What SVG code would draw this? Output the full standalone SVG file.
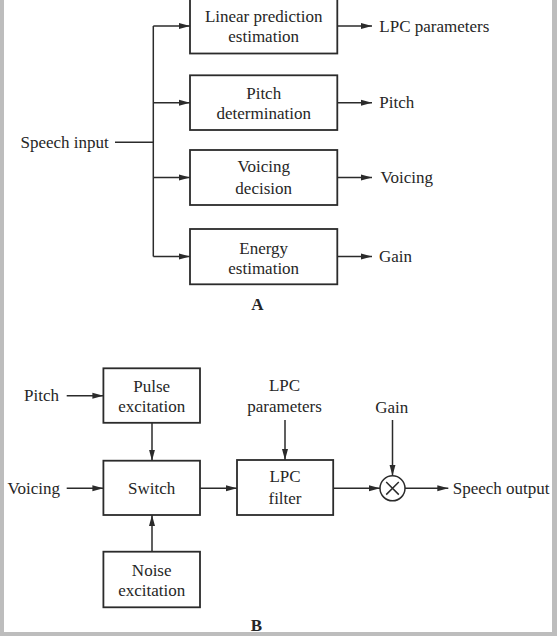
<svg xmlns="http://www.w3.org/2000/svg" width="557" height="636" viewBox="0 0 557 636">
<style>
.bg{fill:#ffffff}
.frame{fill:#bdbdbd}
.box{fill:#ffffff;stroke:#2b2b2b;stroke-width:1.8}
.ln{fill:none;stroke:#2b2b2b;stroke-width:1.5}
.t{font-family:"Liberation Serif","Times New Roman",serif;font-size:17px;fill:#262626}
.c{text-anchor:middle}
.b{font-weight:bold}
</style>
<defs>
<marker id="ah" markerWidth="12" markerHeight="8" refX="11" refY="4" orient="auto" markerUnits="userSpaceOnUse">
<path d="M0,1 L11,4 L0,7 Z" fill="#2b2b2b"/>
</marker>
</defs>
<rect class="bg" x="0" y="0" width="557" height="636"/>
<rect class="frame" x="0" y="0" width="4" height="636"/>
<rect class="frame" x="552" y="0" width="5" height="636"/>
<rect class="frame" x="0" y="632" width="557" height="4"/>

<g id="connectors">
<!-- Part A -->
<path class="ln" d="M115,142.3 H153.3"/>
<path class="ln" d="M153.3,26 V256.5"/>
<path class="ln" d="M153.3,26 H190" marker-end="url(#ah)"/>
<path class="ln" d="M153.3,102.7 H190" marker-end="url(#ah)"/>
<path class="ln" d="M153.3,177.5 H190" marker-end="url(#ah)"/>
<path class="ln" d="M153.3,256.5 H190" marker-end="url(#ah)"/>
<path class="ln" d="M337.3,26 H372" marker-end="url(#ah)"/>
<path class="ln" d="M337.3,102.7 H372" marker-end="url(#ah)"/>
<path class="ln" d="M337.3,177.5 H372" marker-end="url(#ah)"/>
<path class="ln" d="M337.3,256.5 H372" marker-end="url(#ah)"/>
<!-- Part B -->
<path class="ln" d="M66.7,395.7 H103.4" marker-end="url(#ah)"/>
<path class="ln" d="M66.7,488.3 H103.4" marker-end="url(#ah)"/>
<path class="ln" d="M152,423 V460.7" marker-end="url(#ah)"/>
<path class="ln" d="M152,551.7 V515" marker-end="url(#ah)"/>
<path class="ln" d="M200,488.3 H237" marker-end="url(#ah)"/>
<path class="ln" d="M285,420 V460" marker-end="url(#ah)"/>
<path class="ln" d="M333.2,488.3 H380" marker-end="url(#ah)"/>
<path class="ln" d="M392.5,420 V475.8" marker-end="url(#ah)"/>
<path class="ln" d="M405,488.3 H448.3" marker-end="url(#ah)"/>
</g>

<!-- Part A nodes -->
<g id="speech-input"><text class="t" x="20.5" y="148">Speech input</text></g>
<g id="lp-est">
<rect class="box" x="190" y="-1.5" width="147.3" height="55"/>
<text class="t c" x="263.7" y="21.5">Linear prediction</text>
<text class="t c" x="263.7" y="42">estimation</text>
</g>
<g id="pitch-det">
<rect class="box" x="190" y="75.3" width="147.3" height="54.7"/>
<text class="t c" x="263.7" y="98.8">Pitch</text>
<text class="t c" x="263.7" y="118.8">determination</text>
</g>
<g id="voicing-dec">
<rect class="box" x="190" y="150" width="147.3" height="55"/>
<text class="t c" x="263.7" y="172.2">Voicing</text>
<text class="t c" x="263.7" y="193.8">decision</text>
</g>
<g id="energy-est">
<rect class="box" x="190" y="229" width="147.3" height="55.3"/>
<text class="t c" x="263.7" y="253.8">Energy</text>
<text class="t c" x="263.7" y="273.8">estimation</text>
</g>
<g id="out-lpc"><text class="t" x="379.3" y="31.7">LPC parameters</text></g>
<g id="out-pitch"><text class="t" x="379.3" y="108.3">Pitch</text></g>
<g id="out-voicing"><text class="t" x="380.5" y="183">Voicing</text></g>
<g id="out-gain"><text class="t" x="379" y="262">Gain</text></g>
<g id="label-a"><text class="t c b" x="257.3" y="310">A</text></g>

<!-- Part B nodes -->
<g id="in-pitch"><text class="t" x="24" y="401.3">Pitch</text></g>
<g id="in-voicing"><text class="t" x="7.5" y="494">Voicing</text></g>
<g id="pulse-exc">
<rect class="box" x="103.4" y="368.3" width="96.6" height="54.5"/>
<text class="t c" x="151.7" y="392.2">Pulse</text>
<text class="t c" x="151.7" y="412.2">excitation</text>
</g>
<g id="switch">
<rect class="box" x="103.4" y="460.7" width="96.6" height="54.3"/>
<text class="t c" x="151.7" y="494">Switch</text>
</g>
<g id="noise-exc">
<rect class="box" x="103.4" y="551.7" width="96.6" height="55.6"/>
<text class="t c" x="151.7" y="575.5">Noise</text>
<text class="t c" x="151.7" y="596">excitation</text>
</g>
<g id="lpc-params"><text class="t c" x="284.5" y="391.3">LPC</text><text class="t c" x="284.5" y="412.3">parameters</text></g>
<g id="lpc-filter">
<rect class="box" x="237" y="460" width="96.2" height="55"/>
<text class="t c" x="285" y="482.3">LPC</text>
<text class="t c" x="285" y="503.8">filter</text>
</g>
<g id="gain-in"><text class="t c" x="391.7" y="413">Gain</text></g>
<g id="multiplier">
<circle class="ln" cx="392.5" cy="488.3" r="12.5"/>
<path class="ln" d="M386.2,482 L398.8,494.6 M398.8,482 L386.2,494.6"/>
</g>
<g id="speech-output"><text class="t" x="452.7" y="494">Speech output</text></g>
<g id="label-b"><text class="t c b" x="256.5" y="631">B</text></g>
</svg>
